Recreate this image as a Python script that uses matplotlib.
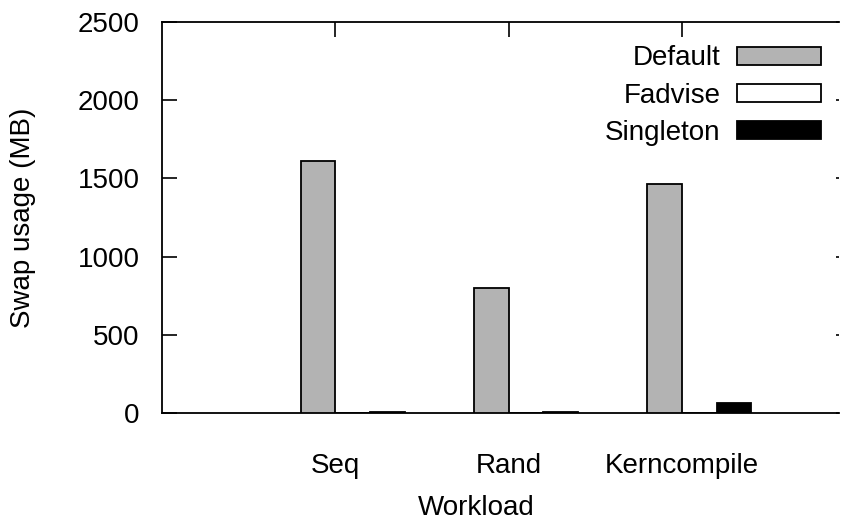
import matplotlib
matplotlib.use("Agg")
import matplotlib.pyplot as plt
import numpy as np

plt.rcParams['font.family'] = ['Liberation Sans', 'DejaVu Sans']

workloads = ["Seq", "Rand", "Kerncompile"]
default_mb = [1612, 800, 1462]
fadvise_mb = [0, 0, 0]
singleton_mb = [5, 4, 66]

series = [("Default", default_mb, "#b3b3b3"),
          ("Fadvise", fadvise_mb, "white"),
          ("Singleton", singleton_mb, "black")]

fs = 20
fig = plt.figure(figsize=(8.46, 5.24), dpi=100)
ax = fig.add_axes([162/846, 111/524, (839-162)/846, (413-22)/524])

x = np.arange(1, len(workloads) + 1)
w = 0.2
for i, (name, vals, col) in enumerate(series):
    ax.bar(x + (i - 1) * w, vals, w, align='edge', color=col,
           edgecolor='black', linewidth=1.3, label=name, zorder=3)

ax.set_xlim(0, 3.906)
ax.set_ylim(0, 2500)
ax.set_yticks(range(0, 2501, 500))
ax.set_xticks(x)
ax.set_xticklabels(workloads)
ax.tick_params(axis='both', labelsize=fs, direction='in', length=11,
               width=1.2, color='black')
ax.tick_params(axis='x', top=True, bottom=False, pad=29)
ax.tick_params(axis='y', right=True, pad=16)
# faint stubs on the right-hand side
for t in ax.yaxis.get_ticklines()[1::2]:
    t.set_markersize(2)
    t.set_color('#bbbbbb')
ax.spines['right'].set_visible(False)
for s in ('left', 'top', 'bottom'):
    ax.spines[s].set_linewidth(1.3)

ax.set_ylabel("Swap usage (MB)", fontsize=fs)
ax.yaxis.set_label_coords(-0.186, 0.5)
fig.text(476/846, 1 - 508/524, "Workload", fontsize=fs, ha='center', va='center')

ax.legend(loc='upper right', bbox_to_anchor=(0.973, 0.94), frameon=False,
          fontsize=fs, markerfirst=False, handlelength=3.0, handleheight=0.62,
          handletextpad=0.6, labelspacing=0.4, borderpad=0, borderaxespad=0)

fig.savefig("out.png", dpi=100)
